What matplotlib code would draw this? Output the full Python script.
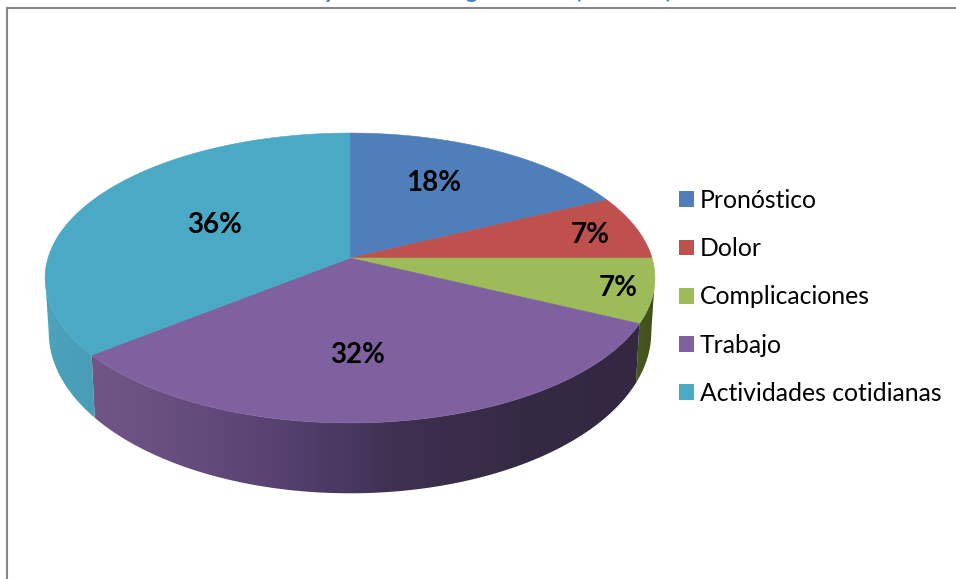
"""Pie 3D de temas consultados, dibujado con una proyeccion en perspectiva."""
import numpy as np
import matplotlib
matplotlib.use("Agg")  # headless
import matplotlib.pyplot as plt
from matplotlib.patches import Polygon, Rectangle

W, H = 956, 579

categories = ["Pronóstico", "Dolor", "Complicaciones", "Trabajo", "Actividades cotidianas"]
counts = [5, 2, 2, 9, 10]
colors = ["#4F7FBB", "#BE504D", "#9DBB59", "#8061A0", "#4AA9C4"]

# colores de la pared lateral: (x en pixeles, color)
side_ramp = {
    2: [(636, "#46591f"), (656, "#3f4f1c")],
    3: [(92, "#6f5686"), (200, "#634b7c"), (300, "#523e6b"), (400, "#3e3050"), (520, "#352a44"), (640, "#33283f")],
    4: [(45, "#4aa3bc"), (95, "#4a9cb5")],
}
label_pos = [(434, 183), (590, 235), (618, 288), (358, 355), (215, 225)]

# perspectiva: x = cx + b*u/(1-k*v), y = y0 + a*v/(1-k*v)
CX, K = 350, 0.138
TOP = dict(y0=258, a=142.2, b=302)
BOT = dict(y0=310, a=158, b=298.4)


def project(ang_deg, disc):
    """angulo horario desde arriba -> pixeles sobre un disco"""
    t = np.radians(ang_deg)
    u, v = np.sin(t), -np.cos(t)
    d = 1 - K * v
    return CX + disc["b"] * u / d, disc["y0"] + disc["a"] * v / d


fig = plt.figure(figsize=(W / 100, H / 100), dpi=100)
ax = fig.add_axes([0, 0, 1, 1])
ax.axis("off")

# marco (solo arriba e izquierda quedan dentro de la imagen)
ax.plot([7.5, 7.5, W], [H, 7.5, 7.5], color="#868686", lw=1.5, solid_joinstyle="miter")

# titulo cortado por el borde superior: solo asoman los descendentes
for x, s in [(330, "y"), (473, "g"), (578, "("), (670, ")")]:
    ax.text(x, -2, s, color="#4F81BD", fontsize=18, family="Lato", weight="bold",
            style="italic", ha="center", va="baseline", clip_on=True)

fracs = np.array(counts) / sum(counts)
edges = np.concatenate([[0], np.cumsum(fracs)]) * 360
left_sil = 360 - np.degrees(np.arccos(-K))
right_sil = np.degrees(np.arccos(-K))

# pared lateral: degradado horizontal recortado por el contorno de cada porcion
for i in range(len(counts)):
    a0, a1 = max(edges[i], right_sil), min(edges[i + 1], left_sil)
    if a1 <= a0 or i not in side_ramp:
        continue
    angs = np.linspace(a0, a1, 120)
    tx, ty = project(angs, TOP)
    bx, by = project(angs, BOT)
    pts = np.column_stack([np.r_[tx, bx[::-1]], np.r_[ty, by[::-1]]])
    outline = Polygon(pts, closed=True, facecolor="none", edgecolor="none", transform=ax.transData)
    ax.add_patch(outline)
    x0, x1 = pts[:, 0].min() - 1, pts[:, 0].max() + 1
    xs = [p[0] for p in side_ramp[i]]
    rgbs = np.array([matplotlib.colors.to_rgb(p[1]) for p in side_ramp[i]])
    grid = np.linspace(x0, x1, 400)
    grad = np.column_stack([np.interp(grid, xs, rgbs[:, c]) for c in range(3)])[None, :, :]
    im = ax.imshow(grad, extent=(x0, x1, pts[:, 1].max() + 1, pts[:, 1].min() - 1),
                   aspect="auto", interpolation="bilinear", zorder=1)
    im.set_clip_path(outline)

# cara superior
for i, c in enumerate(colors):
    angs = np.linspace(edges[i], edges[i + 1], 120)
    x, y = project(angs, TOP)
    pts = np.column_stack([np.r_[CX, x], np.r_[TOP["y0"], y]])
    ax.add_patch(Polygon(pts, closed=True, facecolor=c, edgecolor=c, lw=0.4, zorder=2))

# etiquetas de porcentaje
for (x, y), f in zip(label_pos, fracs):
    ax.text(x, y, f"{f * 100:.0f}%", fontsize=20, family="Lato", weight="bold",
            color="black", ha="center", va="center", zorder=3)

# leyenda
handles = [Rectangle((0, 0), 1, 1, facecolor=c, edgecolor="none") for c in colors]
FS = 17.85
ax.legend(handles, categories, loc="center left", bbox_to_anchor=(669 / W, 1 - 297 / H),
          frameon=False, prop={"family": "Lato", "size": FS}, handlelength=10.8 / FS,
          handleheight=10.8 / FS, handletextpad=0.25, labelspacing=1.02, borderpad=0.4,
          borderaxespad=0, labelcolor="black")

ax.set_xlim(0, W)
ax.set_ylim(H, 0)
fig.savefig("out.png", dpi=100, facecolor="white")
plt.close(fig)
